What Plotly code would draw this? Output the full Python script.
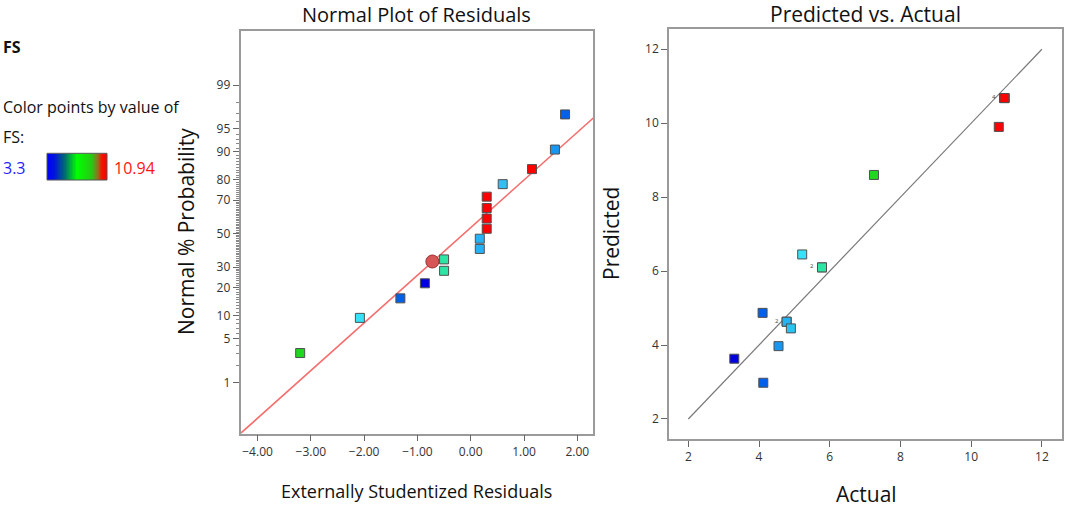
from statistics import NormalDist
import plotly.graph_objects as go

# ---------------- data ----------------
# Normal plot of residuals (sorted run order)
residuals = [-3.20, -2.08, -1.32, -0.86, -0.50, -0.50, 0.17, 0.17,
             0.30, 0.30, 0.30, 0.30, 0.60, 1.15, 1.58, 1.77]
prob_pct = [3.1, 9.4, 15.6, 21.9, 28.1, 34.4, 40.6, 46.9,
            53.1, 59.4, 65.6, 71.9, 78.1, 84.4, 90.6, 96.9]
fs_value = [7.25, 5.22, 4.10, 3.30, 5.78, 5.78, 4.78, 4.78,
            10.94, 10.94, 10.94, 10.94, 4.90, 10.78, 4.55, 4.12]

# Predicted vs actual (same runs)
actual = fs_value
predicted = [8.60, 6.45, 4.87, 3.63, 6.10, 6.10, 4.63, 4.63,
             10.68, 10.68, 10.68, 10.68, 4.45, 9.90, 3.97, 2.98]

# highlighted point
hl_residual = [-0.72]
hl_prob = [33.2]

# reference line of the normal plot (z = intercept + slope * residual)
fit_intercept_z = 0.096
fit_slope_z = 0.7455

# tick labels
prob_ticks = [1, 5, 10, 20, 30, 50, 70, 80, 90, 95, 99]
prob_minor = [p for p in range(2, 99) if p not in prob_ticks]
res_ticks = [-4, -3, -2, -1, 0, 1, 2]
xy_ticks = [2, 4, 6, 8, 10, 12]
fs_min, fs_max = 3.3, 10.94

# ---------------- helpers ----------------
nd = NormalDist()
def z(p):
    return nd.inv_cdf(p / 100.0)

W, H = 1065, 507
def px(x):
    return x / W
def py(y):
    return 1 - y / H

FONT = "Open Sans"
point_scale = [
    [0.0, "rgb(0,0,225)"],
    [0.105, "rgb(0,95,235)"],
    [0.164, "rgb(25,150,240)"],
    [0.21, "rgb(45,195,245)"],
    [0.25, "rgb(55,225,250)"],
    [0.325, "rgb(45,230,165)"],
    [0.517, "rgb(30,215,30)"],
    [0.75, "rgb(190,190,0)"],
    [0.98, "rgb(255,0,0)"],
    [1.0, "rgb(255,0,0)"],
]
legend_scale = [
    [0.0, "rgb(0,0,255)"],
    [0.12, "rgb(0,20,220)"],
    [0.3, "rgb(0,110,110)"],
    [0.5, "rgb(0,255,0)"],
    [0.75, "rgb(40,200,20)"],
    [0.85, "rgb(150,110,30)"],
    [0.92, "rgb(240,20,0)"],
    [1.0, "rgb(255,0,0)"],
]

fig = go.Figure()

# left x/y ranges
xl = [-4.32, 2.30]
yl = [-3.125, 3.176]

# fit line
fig.add_trace(go.Scatter(
    x=xl, y=[fit_intercept_z + fit_slope_z * v for v in xl],
    mode="lines", line=dict(color="rgb(245,110,110)", width=1.6),
    xaxis="x", yaxis="y", hoverinfo="skip", showlegend=False))

fig.add_trace(go.Scatter(
    x=residuals, y=[z(p) for p in prob_pct], mode="markers",
    marker=dict(symbol="square", size=9, color=fs_value, colorscale=point_scale,
                cmin=fs_min, cmax=fs_max, line=dict(color="#505050", width=1)),
    xaxis="x", yaxis="y", showlegend=False))

fig.add_trace(go.Scatter(
    x=hl_residual, y=[z(p) for p in hl_prob], mode="markers",
    marker=dict(symbol="circle", size=13, color="rgb(215,85,85)",
                line=dict(color="rgb(150,50,50)", width=1)),
    xaxis="x", yaxis="y", showlegend=False))

# right plot
fig.add_trace(go.Scatter(
    x=[xy_ticks[0], xy_ticks[-1]], y=[xy_ticks[0], xy_ticks[-1]], mode="lines",
    line=dict(color="rgb(120,120,120)", width=1.2),
    xaxis="x2", yaxis="y2", hoverinfo="skip", showlegend=False))

fig.add_trace(go.Scatter(
    x=actual, y=predicted, mode="markers",
    marker=dict(symbol="square", size=9, color=actual, colorscale=point_scale,
                cmin=fs_min, cmax=fs_max, line=dict(color="#505050", width=1)),
    xaxis="x2", yaxis="y2", showlegend=False))

# legend gradient bar
fig.add_trace(go.Heatmap(
    z=[[i / 99 for i in range(100)]], colorscale=legend_scale, showscale=False,
    xaxis="x3", yaxis="y3", hoverinfo="skip"))

axis_common = dict(showline=True, mirror=True, linecolor="#9a9a9a", linewidth=1.5,
                   ticks="outside", ticklen=6, tickcolor="#666", tickwidth=1,
                   showgrid=False, zeroline=False,
                   tickfont=dict(family=FONT, size=12, color="#333"))

fig.update_layout(
    width=W, height=H, margin=dict(l=0, r=0, t=0, b=0),
    paper_bgcolor="white", plot_bgcolor="white",
    xaxis=dict(domain=[px(240.5), px(593.3)], range=xl, tickvals=res_ticks,
               tickformat=".2f", anchor="y", **axis_common),
    yaxis=dict(domain=[py(433.5), py(30.7)], range=yl,
               tickvals=[z(p) for p in prob_ticks], ticktext=[str(p) for p in prob_ticks],
               minor=dict(tickvals=[z(p) for p in prob_minor], ticklen=3,
                          tickcolor="#888", ticks="outside"),
               anchor="x", **axis_common),
    xaxis2=dict(domain=[px(669), px(1061.7)], range=[1.453, 12.56], tickvals=xy_ticks,
                anchor="y2", **axis_common),
    yaxis2=dict(domain=[py(439.3), py(29.3)], range=[1.45, 12.54], tickvals=xy_ticks,
                anchor="x2", **axis_common),
    xaxis3=dict(domain=[px(47), px(107)], visible=False, anchor="y3"),
    yaxis3=dict(domain=[py(180), py(153.3)], visible=False, anchor="x3"),
)

fig.add_shape(type="rect", xref="paper", yref="paper",
              x0=px(47), x1=px(107), y0=py(180), y1=py(153.3),
              line=dict(color="#555", width=1))

ann = []
def text(x, y, s, size, color="#111", xanchor="center", textangle=0, bold=False):
    ann.append(dict(x=px(x), y=py(y), xref="paper", yref="paper", text=(f"<b>{s}</b>" if bold else s),
                    showarrow=False, xanchor=xanchor, yanchor="middle", textangle=textangle,
                    font=dict(family=FONT, size=size, color=color)))

text(416, 14, "Normal Plot of Residuals", 20)
text(865, 14, "Predicted vs. Actual", 21)
text(416, 491, "Externally Studentized Residuals", 18)
text(866, 494, "Actual", 21)
text(186, 232, "Normal % Probability", 21, textangle=-90)
text(611, 234, "Predicted", 21, textangle=-90)
text(1, 47, "FS", 16, xanchor="left", bold=True)
text(1, 107, "Color points by value of", 16, xanchor="left")
text(1, 137, "FS:", 16, xanchor="left")
text(1, 168, "3.3", 16, color="rgb(30,30,255)", xanchor="left")
text(112, 168, "10.94", 16, color="rgb(255,20,20)", xanchor="left")

# duplicate-count labels on the right plot
for xx, yy, lab in [(5.78, 6.10, "2"), (4.78, 4.63, "2"), (10.94, 10.68, "4")]:
    ann.append(dict(x=xx, y=yy, xref="x2", yref="y2", text=lab, showarrow=False,
                    xshift=-10, yshift=1, font=dict(family=FONT, size=6, color="#444")))

fig.update_layout(annotations=ann)
fig.write_html("out.html", config={"displayModeBar": False},
               post_script="document.body.style.margin='0px';")
